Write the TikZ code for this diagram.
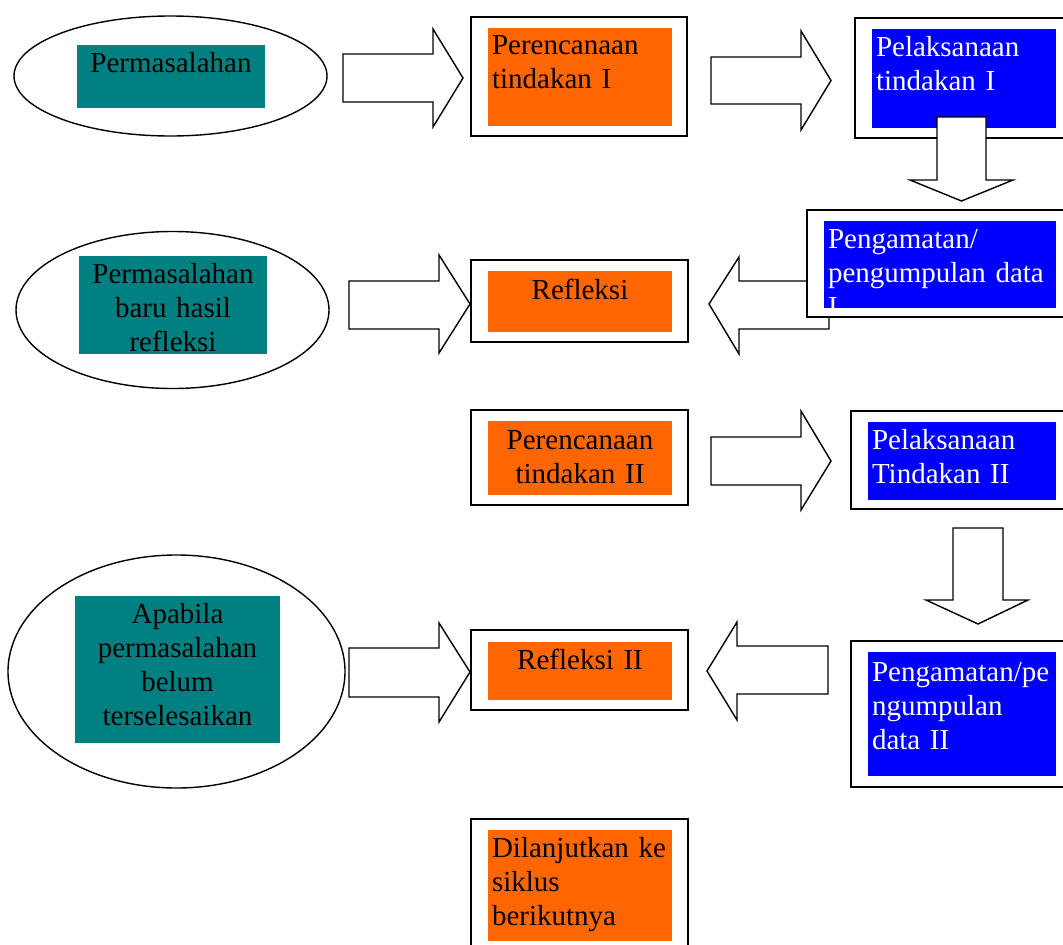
\documentclass[tikz,border=0pt]{standalone}
\usepackage{fontspec}
\setmainfont{Liberation Serif}
\usetikzlibrary{shapes.geometric}
\definecolor{tealc}{HTML}{008080}
\definecolor{orangec}{HTML}{FF6600}
\definecolor{bluec}{HTML}{0000FF}
\tikzset{
  frame/.style={draw, line width=1.6pt, fill=white, inner sep=0pt, outer sep=0pt, anchor=north west},
  panel/.style={fill=#1, draw=none, inner sep=0pt, outer sep=0pt, anchor=north west},
  oval/.style={draw, ellipse, line width=1.4pt, fill=white, inner sep=0pt, outer sep=0pt},
  txt/.style={inner sep=0pt, outer sep=0pt, font=\fontsize{29}{34}\selectfont},
  ltxt/.style={txt, anchor=base west, text width=#1, align=left},
  ctxt/.style={txt, anchor=base, text width=#1, align=center},
  blockarrow/.style={draw, line width=1.4pt, fill=white, line join=miter}
}
\begin{document}
\begin{tikzpicture}[x=1pt,y=-1pt]
\useasboundingbox (0,0) rectangle (1063,945);
% ---------- Row 1 ----------
\node[oval, minimum width=313pt, minimum height=120pt] (e1) at (170.5,76) {};
\node[panel=tealc, minimum width=188pt, minimum height=63pt] (e1f) at (77,45) {};
\node[ctxt=188pt] (e1t) at (171,72) {Permasalahan};
\draw[blockarrow] (343,54) -- (433,54) -- (433,29) -- (463,78) -- (433,127) -- (433,102) -- (343,102) -- cycle;
\node[frame, minimum width=216pt, minimum height=119pt] (p1) at (471,17) {};
\node[panel=orangec, minimum width=184pt, minimum height=98pt] (p1f) at (488,28) {};
\node[ltxt=180pt] (p1t) at (492,54) {Perencanaan\\tindakan I};
\draw[blockarrow] (711,57) -- (801,57) -- (801,31) -- (831,80.5) -- (801,130) -- (801,104) -- (711,104) -- cycle;
\node[frame, minimum width=220pt, minimum height=120pt] (l1) at (855,18) {};
\node[panel=bluec, minimum width=184pt, minimum height=99pt] (l1f) at (872,29) {};
\node[ltxt=180pt, text=white] (l1t) at (876,56) {Pelaksanaan\\tindakan I};
\draw[blockarrow] (937,117) -- (986,117) -- (986,180) -- (1013,180) -- (961.5,201) -- (910,180) -- (937,180) -- cycle;
% ---------- Row 2 ----------
\draw[blockarrow] (829,281) -- (739,281) -- (739,257) -- (709,304) -- (739,354) -- (739,329) -- (829,329) -- cycle;
\node[frame, minimum width=265pt, minimum height=107pt] (g1) at (807,210) {};
\node[panel=bluec, minimum width=232pt, minimum height=87pt] (g1f) at (824,221) {};
\begin{scope}
\clip (824,221) rectangle (1056,308);
\node[ltxt=228pt, text=white] (g1t) at (828,248) {Pengamatan/\\pengumpulan data\\I};
\end{scope}
\node[oval, minimum width=313pt, minimum height=157pt] (e2) at (172.5,310) {};
\node[panel=tealc, minimum width=188pt, minimum height=98pt] (e2f) at (79,256) {};
\node[ctxt=188pt] (e2t) at (173,283) {Permasalahan\\baru hasil\\refleksi};
\draw[blockarrow] (349,281) -- (439,281) -- (439,255) -- (470,304) -- (439,353) -- (439,329) -- (349,329) -- cycle;
\node[frame, minimum width=217pt, minimum height=82pt] (r1) at (471,260) {};
\node[panel=orangec, minimum width=184pt, minimum height=61pt] (r1f) at (488,271) {};
\node[ctxt=184pt] (r1t) at (580,299) {Refleksi};
% ---------- Row 3 ----------
\node[frame, minimum width=217pt, minimum height=95pt] (p2) at (471,410) {};
\node[panel=orangec, minimum width=184pt, minimum height=74pt] (p2f) at (488,421) {};
\node[ctxt=184pt] (p2t) at (580,449) {Perencanaan\\tindakan II};
\draw[blockarrow] (711,437) -- (801,437) -- (801,411) -- (831,461) -- (801,510) -- (801,485) -- (711,485) -- cycle;
\node[frame, minimum width=225pt, minimum height=98pt] (l2) at (851,411) {};
\node[panel=bluec, minimum width=188pt, minimum height=78pt] (l2f) at (868,422) {};
\node[ltxt=184pt, text=white] (l2t) at (872,449) {Pelaksanaan\\Tindakan II};
\draw[blockarrow] (953,528) -- (1003,528) -- (1003,600) -- (1028,600) -- (978,624) -- (926,600) -- (953,600) -- cycle;
% ---------- Row 4 ----------
\node[oval, minimum width=337pt, minimum height=233pt] (e3) at (176.5,671.5) {};
\node[panel=tealc, minimum width=205pt, minimum height=147pt] (e3f) at (75,596) {};
\node[ctxt=205pt] (e3t) at (177.5,623) {Apabila\\permasalahan\\belum\\terselesaikan};
\draw[blockarrow] (349,648) -- (439,648) -- (439,623) -- (470,672) -- (439,722) -- (439,697) -- (349,697) -- cycle;
\node[frame, minimum width=217pt, minimum height=80pt] (r2) at (471,630) {};
\node[panel=orangec, minimum width=184pt, minimum height=58pt] (r2f) at (488,642) {};
\node[ctxt=184pt] (r2t) at (580,669) {Refleksi II};
\draw[blockarrow] (828,646) -- (737,646) -- (737,622) -- (707,671) -- (737,720) -- (737,694) -- (828,694) -- cycle;
\node[frame, minimum width=225pt, minimum height=146pt] (g2) at (851,641) {};
\node[panel=bluec, minimum width=188pt, minimum height=124pt] (g2f) at (868,652) {};
\node[ltxt=184pt, text=white] (g2t) at (872,681) {Pengamatan/pe\\ngumpulan\\data II};
% ---------- Row 5 ----------
\node[frame, minimum width=217pt, minimum height=140pt] (d1) at (471,819) {};
\node[panel=orangec, minimum width=184pt, minimum height=111pt] (d1f) at (488,830) {};
\node[ltxt=180pt] (d1t) at (492,857) {Dilanjutkan ke\\siklus\\berikutnya};
\end{tikzpicture}
\end{document}
